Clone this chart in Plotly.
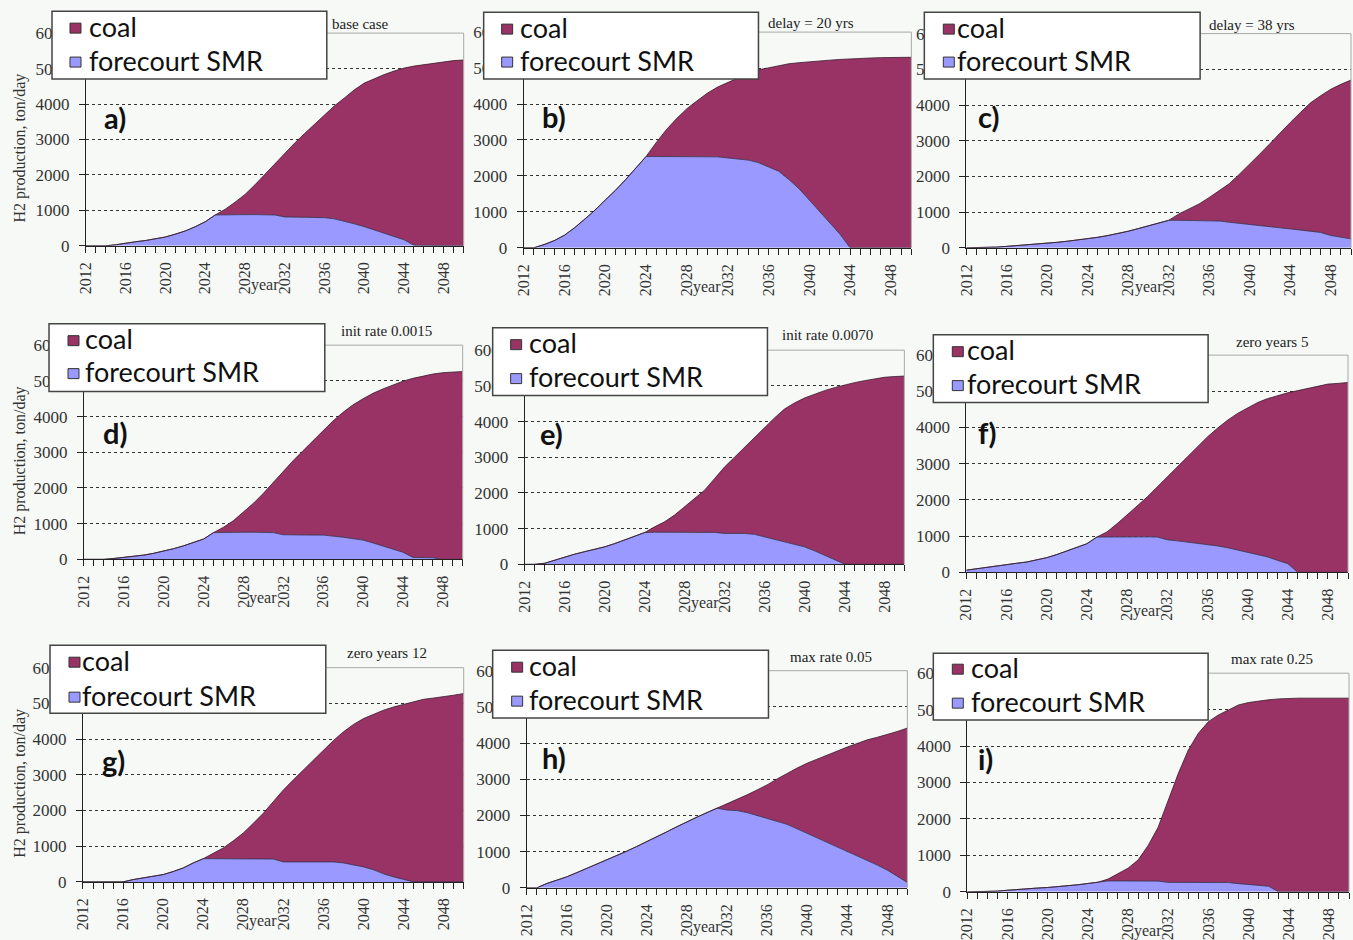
import plotly.graph_objects as go

# ---------------------------------------------------------------
# H2 production scenarios: forecourt SMR vs coal (ton/day)
# ---------------------------------------------------------------
years = list(range(2012, 2051))

smr_a = [0, 0, 0, 30, 80, 115, 150, 200, 250, 330, 420, 540, 680, 870, 880, 880, 880, 880, 880, 870,
         815, 815, 815, 810, 795, 760, 700, 620, 540, 450, 360, 270, 170, 15, 15, 15, 0, 0, 0]
total_a = [0, 0, 0, 30, 80, 115, 150, 200, 250, 330, 420, 540, 680, 870, 1030, 1230, 1450, 1720, 2015,
           2310, 2620, 2900, 3170, 3430, 3690, 3950, 4170, 4400, 4590, 4720, 4830, 4930, 5015, 5070,
           5110, 5160, 5200, 5225, 5240]

smr_b = [0, 0, 90, 200, 350, 560, 800, 1050, 1330, 1600, 1900, 2230, 2540, 2540, 2540, 2540, 2540,
         2540, 2540, 2530, 2500, 2480, 2440, 2370, 2250, 2130, 1900, 1640, 1330, 1020, 700, 380, 0,
         0, 0, 0, 0, 0, 0]
total_b = [0, 0, 90, 200, 350, 560, 800, 1050, 1330, 1600, 1900, 2230, 2540, 2930, 3290, 3600, 3870,
           4090, 4300, 4470, 4600, 4730, 4850, 4950, 5010, 5060, 5120, 5150, 5180, 5200, 5220, 5240,
           5260, 5270, 5280, 5290, 5295, 5300, 5300]

smr_c = [0, 0, 0, 20, 40, 60, 85, 105, 130, 155, 185, 215, 250, 295, 345, 400, 465, 540, 620, 690,
         770, 770, 765, 760, 755, 750, 715, 680, 650, 620, 595, 560, 530, 500, 480, 430, 345, 300, 250]
total_c = [0, 0, 0, 20, 40, 60, 85, 105, 130, 155, 185, 215, 250, 295, 345, 400, 465, 540, 620, 690,
           770, 950, 1090, 1230, 1410, 1600, 1800, 2070, 2340, 2630, 2920, 3230, 3510, 3790, 4060,
           4260, 4440, 4580, 4700]

smr_d = [0, 0, 0, 25, 55, 90, 120, 170, 225, 300, 380, 480, 570, 750, 760, 760, 760, 760, 760, 750,
         690, 680, 680, 680, 680, 660, 620, 580, 540, 460, 380, 290, 200, 55, 50, 45, 0, 0, 0]
total_d = [0, 0, 0, 25, 55, 90, 120, 170, 225, 300, 380, 480, 570, 750, 900, 1085, 1320, 1570, 1850,
           2160, 2490, 2770, 3050, 3330, 3610, 3880, 4120, 4330, 4500, 4650, 4775, 4890, 4990, 5070,
           5140, 5190, 5230, 5250, 5260]

smr_e = [0, 0, 30, 120, 215, 285, 355, 420, 490, 580, 680, 780, 890, 900, 900, 900, 900, 900, 900,
         895, 865, 865, 865, 840, 770, 710, 650, 570, 490, 380, 260, 140, 10, 0, 0, 0, 0, 0, 0]
total_e = [0, 0, 30, 120, 215, 285, 355, 420, 490, 580, 680, 780, 890, 1050, 1190, 1380, 1610, 1840,
           2075, 2400, 2725, 3000, 3280, 3560, 3840, 4100, 4350, 4520, 4660, 4770, 4865, 4950, 5030,
           5090, 5145, 5190, 5240, 5260, 5275]

smr_f = [60, 100, 150, 185, 220, 250, 285, 340, 405, 490, 590, 690, 790, 975, 980, 980, 980, 980, 980,
         975, 900, 870, 840, 810, 775, 730, 680, 620, 560, 495, 425, 330, 240, 0, 0, 0, 0, 0, 0]
total_f = [60, 100, 150, 185, 220, 250, 285, 340, 405, 490, 590, 690, 790, 975, 1115, 1340, 1575, 1830,
           2080, 2360, 2635, 2910, 3190, 3470, 3740, 3980, 4200, 4390, 4550, 4690, 4800, 4890, 4960,
           5020, 5080, 5140, 5200, 5220, 5245]

smr_g = [0, 0, 0, 0, 0, 65, 110, 155, 205, 290, 390, 530, 650, 650, 650, 650, 650, 650, 650, 640,
         560, 560, 560, 560, 560, 560, 530, 480, 420, 340, 225, 140, 65, 0, 0, 0, 0, 0, 0]
total_g = [0, 0, 0, 0, 0, 65, 110, 155, 205, 290, 390, 530, 650, 800, 950, 1150, 1370, 1640, 1925,
           2250, 2575, 2860, 3135, 3420, 3690, 3960, 4205, 4410, 4575, 4700, 4810, 4900, 4975, 5050,
           5115, 5150, 5180, 5230, 5275]

smr_h = [0, 0, 120, 210, 305, 420, 535, 650, 765, 890, 1015, 1145, 1275, 1410, 1550, 1690, 1830, 1955,
         2080, 2200, 2150, 2135, 2080, 2000, 1920, 1840, 1755, 1630, 1505, 1390, 1275, 1150, 1025,
         895, 765, 630, 490, 320, 150]
total_h = [0, 0, 120, 210, 305, 420, 535, 650, 765, 890, 1015, 1145, 1275, 1410, 1550, 1690, 1830,
           1955, 2080, 2200, 2340, 2455, 2570, 2705, 2845, 3010, 3170, 3310, 3445, 3560, 3675, 3785,
           3890, 3990, 4090, 4160, 4230, 4320, 4415]

smr_i = [0, 0, 0, 20, 45, 70, 90, 105, 120, 140, 165, 195, 230, 265, 300, 300, 300, 300, 300, 295,
         260, 260, 260, 260, 260, 260, 255, 225, 195, 175, 155, 0, 0, 0, 0, 0, 0, 0, 0]
total_i = [0, 0, 0, 20, 45, 70, 90, 105, 120, 140, 165, 195, 230, 265, 350, 490, 650, 875, 1270, 1775,
           2510, 3245, 3890, 4350, 4670, 4855, 4990, 5130, 5195, 5240, 5270, 5295, 5315, 5315, 5315,
           5315, 5315, 5315, 5315]

letters = ["a)", "b)", "c)", "d)", "e)", "f)", "g)", "h)", "i)"]
titles = ["base case", "delay = 20 yrs", "delay = 38 yrs",
          "init rate 0.0015", "init rate 0.0070", "zero years 5",
          "zero years 12", "max rate 0.05", "max rate 0.25"]
series_names = ["coal", "forecourt SMR"]
y_title = "H2 production, ton/day"
x_title = "year"

smr_all = [smr_a, smr_b, smr_c, smr_d, smr_e, smr_f, smr_g, smr_h, smr_i]
total_all = [total_a, total_b, total_c, total_d, total_e, total_f, total_g, total_h, total_i]

# ---------------------------------------------------------------
# page geometry: positions are given in page pixels and converted to
# paper fractions of the figure (which sits inside an 8px body margin)
# ---------------------------------------------------------------
FW, FH, OFF = 1353, 940, 8
SX, SY = (FW + OFF) / FW, (FH + 18) / FH

def px(x):
    return min(max((x * SX - OFF) / FW, 0), 1)

def py(y):
    return min(max(1 - (y * SY - OFF) / FH, 0), 1)

# plot boxes: left, right, top, bottom
boxes = [
    (85, 463, 32, 245), (523, 911, 31, 247), (966, 1351, 32.5, 247),
    (83, 462, 344.5, 559), (524, 904, 349.5, 564), (966, 1348, 354.5, 572),
    (82, 463, 667.5, 882), (526, 907, 670.5, 888), (967, 1349, 673, 892),
]
# legend boxes: x0, x1, y0, y1, marker x, text x, coal row y, smr row y
legend_boxes = [
    (51, 326, 10, 78, 69, 86, 27, 61), (483, 758, 11, 78, 501, 517, 28, 61),
    (924, 1200, 11, 78, 943, 955, 28, 61),
    (48, 324, 323, 391, 67, 82, 340, 373), (492, 767, 327, 395, 510, 526, 344, 378),
    (933, 1208, 334, 402, 952, 965, 351, 385),
    (49, 325, 645, 713, 68, 79, 662, 697), (492, 768, 650, 718, 511, 526, 667, 701),
    (933, 1208, 653, 720, 952, 969, 669, 703),
]
letter_pos = [(114, 117), (553, 116), (988, 116), (114, 432), (551, 433), (987, 432),
              (113, 760), (553, 757), (985, 758)]
title_pos = [(360, 23), (811, 22), (1252, 24), (386, 330), (827, 334), (1272, 341),
             (386, 653), (831, 657), (1272, 659)]

COAL = "#993366"
SMR = "#9999ff"
BG = "#f6f9f6"
SERIF = "Liberation Serif"
SANS = "Lato"

fig = go.Figure()
layout = dict(
    width=FW, height=FH, margin=dict(l=0, r=0, t=0, b=0),
    paper_bgcolor=BG, plot_bgcolor=BG, showlegend=False,
)
shapes = []
annotations = []

for k in range(9):
    n = "" if k == 0 else str(k + 1)
    xa, ya = "x" + n, "y" + n
    smr = smr_all[k]
    coal = [t - s for t, s in zip(total_all[k], smr)]
    fig.add_trace(go.Scatter(
        x=years, y=smr, name=series_names[1], stackgroup="g" + n, mode="lines",
        line=dict(color="#30304a", width=0.8), fillcolor=SMR,
        xaxis=xa, yaxis=ya, hoverinfo="skip"))
    fig.add_trace(go.Scatter(
        x=years, y=coal, name=series_names[0], stackgroup="g" + n, mode="lines",
        line=dict(color="#3a1a2a", width=0.8), fillcolor=COAL,
        xaxis=xa, yaxis=ya, hoverinfo="skip"))

    l, r, t, b = boxes[k]
    layout["xaxis" + n] = dict(
        domain=[px(l), px(r)], anchor=ya, range=[2012, 2050],
        tickmode="linear", tick0=2012, dtick=4, tickangle=-90,
        ticks="outside", ticklen=6, tickcolor="#222", tickwidth=1,
        minor=dict(dtick=1, ticks="outside", ticklen=6, tickcolor="#222", showgrid=False),
        showline=True, linecolor="#222", linewidth=1, showgrid=False, zeroline=False,
        ticklabelstandoff=3,
        tickfont=dict(family=SERIF, size=16, color="#333"),
    )
    layout["yaxis" + n] = dict(
        domain=[py(b), py(t)], anchor=xa, range=[0, 6000],
        tickmode="linear", tick0=0, dtick=1000,
        ticks="outside", ticklen=6, tickcolor="#222",
        showline=True, linecolor="#222", linewidth=1, zeroline=False,
        showgrid=True, gridcolor="#333", gridwidth=1, griddash="3px,3px",
        ticklabelstandoff=6,
        tickfont=dict(family=SERIF, size=17, color="#333"),
    )

    # top and right frame of the plot area
    shapes.append(dict(type="line", xref="paper", yref="paper", x0=px(l), x1=px(r),
                       y0=py(t), y1=py(t), line=dict(color="#a8a8a8", width=1), layer="above"))
    shapes.append(dict(type="line", xref="paper", yref="paper", x0=px(r), x1=px(r),
                       y0=py(t), y1=py(b), line=dict(color="#a8a8a8", width=1), layer="above"))

    # axis title "year"
    annotations.append(dict(x=2030, y=0, xref=xa, yref=ya + " domain", text=x_title,
                            showarrow=False, yshift=-39, xanchor="center", yanchor="middle",
                            font=dict(family=SERIF, size=16, color="#333")))
    # scenario title
    tx, ty = title_pos[k]
    annotations.append(dict(x=px(tx), y=py(ty), xref="paper", yref="paper", text=titles[k],
                            showarrow=False, xanchor="center", yanchor="middle",
                            font=dict(family=SERIF, size=15, color="#222")))
    # panel letter
    lx, ly = letter_pos[k]
    annotations.append(dict(x=px(lx), y=py(ly), xref="paper", yref="paper",
                            text="<b>%s</b>" % letters[k], showarrow=False,
                            xanchor="center", yanchor="middle",
                            font=dict(family=SANS, size=29, color="#111")))
    # y axis title on the left column
    if k % 3 == 0:
        annotations.append(dict(x=px(19), y=0.5, xref="paper", yref=ya + " domain",
                                text=y_title, textangle=-90, showarrow=False, yshift=-9,
                                xanchor="center", yanchor="middle",
                                font=dict(family=SERIF, size=16, color="#333")))

# legends (drawn last so they sit over the plot frame)
for k in range(9):
    x0, x1, y0, y1, mx, tx, cy, sy = legend_boxes[k]
    shapes.append(dict(type="rect", xref="paper", yref="paper", x0=px(x0), x1=px(x1),
                       y0=py(y1), y1=py(y0), fillcolor="white",
                       line=dict(color="#444", width=1.5), layer="above"))
    for row_y, color, label in ((cy, COAL, series_names[0]), (sy, SMR, series_names[1])):
        shapes.append(dict(type="rect", xref="paper", yref="paper", x0=px(mx), x1=px(mx + 11),
                           y0=py(row_y + 5), y1=py(row_y - 5), fillcolor=color,
                           line=dict(color="#333", width=1), layer="above"))
        annotations.append(dict(x=px(tx), y=py(row_y - 2), xref="paper", yref="paper",
                                text=label, showarrow=False, xanchor="left", yanchor="middle",
                                font=dict(family=SANS, size=27, color="#111")))

layout["shapes"] = shapes
layout["annotations"] = annotations
fig.update_layout(**layout)
fig.write_html("out.html")
